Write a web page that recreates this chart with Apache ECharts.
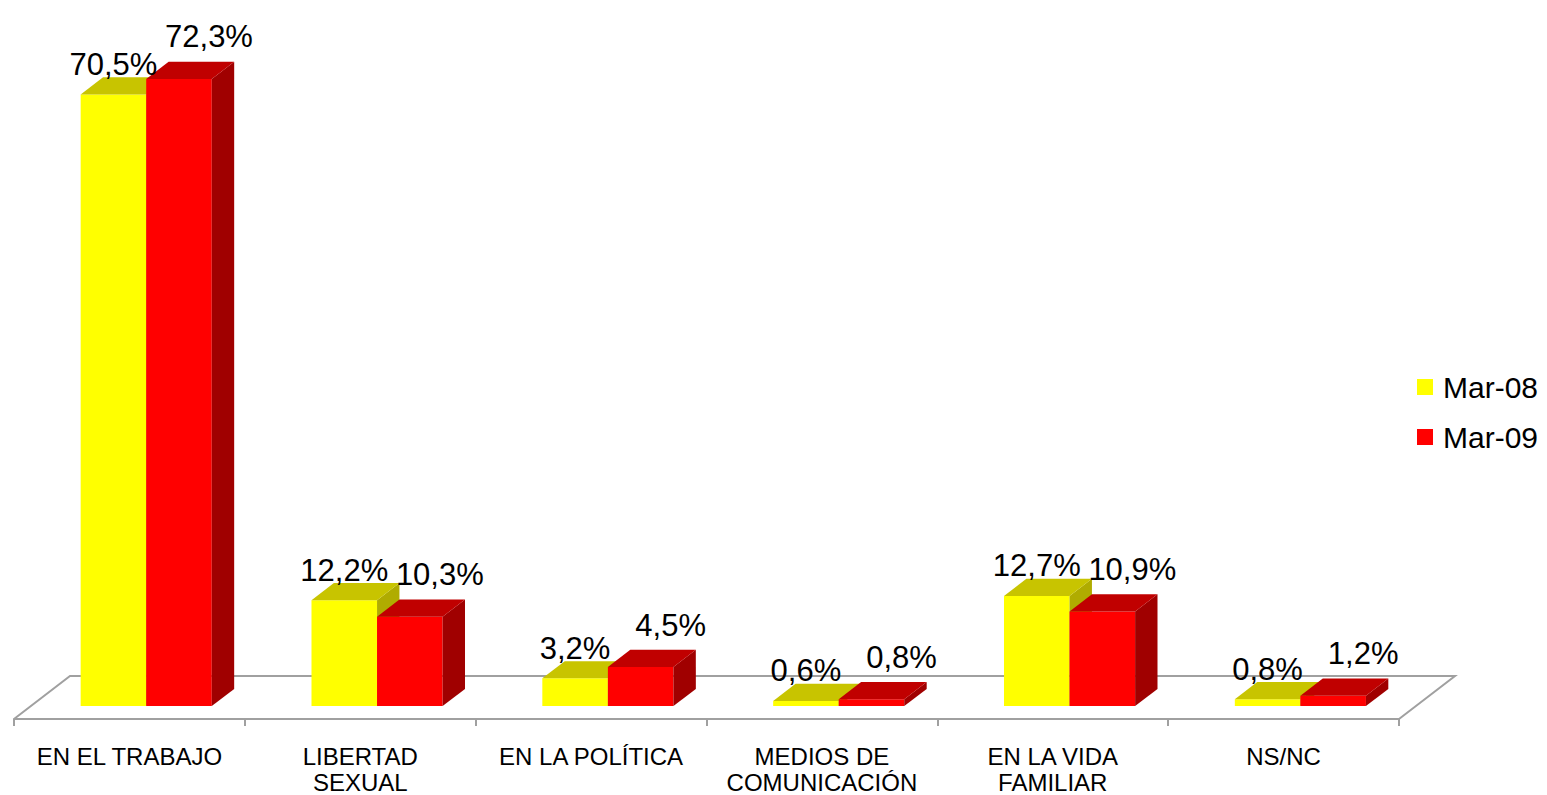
<!DOCTYPE html>
<html>
<head>
<meta charset="utf-8">
<title>Discriminación</title>
<script src="https://cdn.jsdelivr.net/npm/echarts@6/dist/echarts.min.js"></script>
<style>
html, body { margin: 0; padding: 0; background: #fff; }
#chart-discrim { width: 1547px; height: 795px; }
</style>
</head>
<body>
<div id="chart-discrim"></div>
<script>
var categories = ["EN EL TRABAJO", "LIBERTAD\nSEXUAL", "EN LA POLÍTICA", "MEDIOS DE\nCOMUNICACIÓN", "EN LA VIDA\nFAMILIAR", "NS/NC"];
var mar08 = [70.5, 12.2, 3.2, 0.6, 12.7, 0.8];
var mar09 = [72.3, 10.3, 4.5, 0.8, 10.9, 1.2];
var seriesNames = ["Mar-08", "Mar-09"];

var FONT = "'Liberation Sans', Arial, sans-serif";
// 3d look: depth of the floor, bars sit between 30% and 70% of it
var floorDepth = [56, -43];
var barStart = 0.3;
var barEnd = 0.7;
var barFrac = 0.284;

function fmt(v) {
  return v.toFixed(1).replace(".", ",") + "%";
}

function barRenderer(colors, slot, labelShift) {
  return function (params, api) {
    var i = api.value(0);
    var v = api.value(1);
    var base = api.coord([i, 0]);
    var top = api.coord([i, v]);
    var w = api.size([1, 0])[0] * barFrac;
    var ox = floorDepth[0] * barStart, oy = floorDepth[1] * barStart;
    var dx = floorDepth[0] * (barEnd - barStart), dy = floorDepth[1] * (barEnd - barStart);
    var x0 = base[0] + ox + slot * w;
    var x1 = x0 + w;
    var yb = base[1] + oy;
    var yt = top[1] + oy;
    return {
      type: "group",
      children: [
        {
          type: "rect",
          shape: { x: x0, y: yt, width: w, height: yb - yt },
          style: { fill: colors[0] }
        },
        {
          type: "polygon",
          shape: { points: [[x1, yt], [x1 + dx, yt + dy], [x1 + dx, yb + dy], [x1, yb]] },
          style: { fill: colors[2] }
        },
        {
          type: "polygon",
          shape: { points: [[x0, yt], [x1, yt], [x1 + dx, yt + dy], [x0 + dx, yt + dy]] },
          style: { fill: colors[1] }
        },
        {
          type: "text",
          z2: 100,
          style: {
            text: fmt(v),
            x: (x0 + x1) / 2 + labelShift[0],
            y: yt + labelShift[1],
            align: "center",
            verticalAlign: "middle",
            fontSize: 31,
            fontFamily: FONT,
            fill: "#000"
          }
        }
      ]
    };
  };
}

function floorRenderer(params, api) {
  var half = api.size([1, 0])[0] / 2;
  var a = api.coord([0, 0]);
  var b = api.coord([categories.length - 1, 0]);
  var l = a[0] - half, r = b[0] + half, y = a[1];
  return {
    type: "polyline",
    shape: {
      points: [[l, y], [l + floorDepth[0], y + floorDepth[1]], [r + floorDepth[0], y + floorDepth[1]], [r, y]]
    },
    style: { stroke: "#a0a0a0", lineWidth: 2, fill: null }
  };
}

var chart = echarts.init(document.getElementById("chart-discrim"), null, { renderer: "svg" });

chart.setOption({
  animation: false,
  grid: { left: 14, right: 148, top: 25, bottom: 75 },
  legend: {
    data: seriesNames,
    orient: "vertical",
    left: 1417,
    top: 372,
    padding: 0,
    itemWidth: 16,
    itemHeight: 16,
    itemGap: 20,
    icon: "rect",
    textStyle: { fontSize: 30, color: "#000", fontFamily: FONT, padding: [0, 0, 0, 5] }
  },
  xAxis: {
    type: "category",
    data: categories,
    axisLine: { show: true, lineStyle: { color: "#a0a0a0", width: 2 } },
    axisTick: { show: true, length: 7, interval: 0, lineStyle: { color: "#a0a0a0", width: 2 } },
    axisLabel: {
      interval: 0,
      margin: 24,
      fontSize: 24,
      lineHeight: 26,
      color: "#000",
      fontFamily: FONT
    }
  },
  yAxis: {
    type: "value",
    min: 0,
    max: 80,
    show: false,
    splitLine: { show: false }
  },
  series: [
    {
      type: "custom",
      name: "floor",
      z: 1,
      renderItem: floorRenderer,
      data: [[0, 0]]
    },
    {
      type: "custom",
      name: seriesNames[0],
      z: 2,
      itemStyle: { color: "#ffff00" },
      renderItem: barRenderer(["#ffff00", "#c8c400", "#b0ac00"], -1, [0, -30]),
      data: mar08.map(function (v, i) { return [i, v]; })
    },
    {
      type: "custom",
      name: seriesNames[1],
      z: 2,
      itemStyle: { color: "#ff0000" },
      renderItem: barRenderer(["#ff0000", "#c00000", "#a00000"], 0, [30, -42]),
      data: mar09.map(function (v, i) { return [i, v]; })
    }
  ]
});
</script>
</body>
</html>
